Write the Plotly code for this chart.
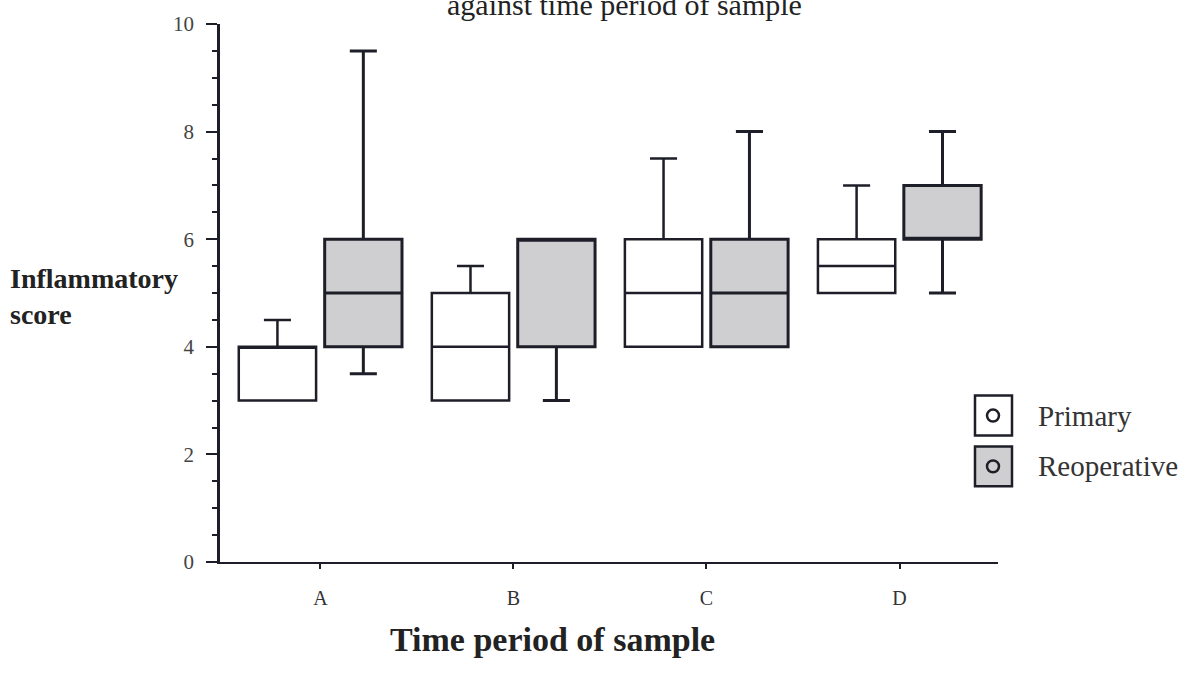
import plotly.graph_objects as go

categories = ["A", "B", "C", "D"]

# Primary
prim_low = [3, 3, 4, 5]
prim_q1 = [3, 3, 4, 5]
prim_med = [4, 4, 5, 5.5]
prim_q3 = [4, 5, 6, 6]
prim_high = [4.5, 5.5, 7.5, 7]

# Reoperative
reop_low = [3.5, 3, 4, 5]
reop_q1 = [4, 4, 4, 6]
reop_med = [5, 6, 5, 6]
reop_q3 = [6, 6, 6, 7]
reop_high = [9.5, 6, 8, 8]

y_ticks = [0, 2, 4, 6, 8, 10]

ink = "#1e1e28"
serif = "Liberation Serif"

fig = go.Figure()
fig.add_trace(go.Box(
    name="Primary", x=categories, q1=prim_q1, median=prim_med, q3=prim_q3,
    lowerfence=prim_low, upperfence=prim_high,
    fillcolor="white", line=dict(color=ink, width=2.5),
    whiskerwidth=0.35, boxpoints=False, showlegend=False,
))
fig.add_trace(go.Box(
    name="Reoperative", x=categories, q1=reop_q1, median=reop_med, q3=reop_q3,
    lowerfence=reop_low, upperfence=reop_high,
    fillcolor="#cfcfd2", line=dict(color=ink, width=3),
    whiskerwidth=0.35, boxpoints=False, showlegend=False,
))

# axes geometry: plot area px x 220..998, y 22..562
W, H = 1188, 684
L, R, T, B = 220, 190, 22, 122
pw = W - L - R
ph = H - T - B

def px(x):
    return (x - L) / pw

def py(y):
    return (H - B - y) / ph

fig.update_layout(
    width=W, height=H,
    margin=dict(l=L, r=R, t=T, b=B),
    paper_bgcolor="white", plot_bgcolor="white",
    boxmode="group", boxgap=0.11, boxgroupgap=0.1,
    font=dict(family=serif, color="#333"),
    showlegend=False,
)
fig.update_xaxes(
    type="category", range=[-0.52, 3.51],
    showline=True, linewidth=2, linecolor=ink,
    ticks="outside", ticklen=5, tickwidth=2, tickcolor=ink,
    ticklabelstandoff=12,
    tickfont=dict(family=serif, size=20, color="#333"),
    showgrid=False, zeroline=False,
)
fig.update_yaxes(
    range=[0, 10], tickvals=y_ticks,
    showline=True, linewidth=2.5, linecolor=ink,
    ticks="outside", ticklen=11, tickwidth=2, tickcolor=ink,
    ticklabelstandoff=8,
    tickfont=dict(family=serif, size=21, color="#444"),
    minor=dict(dtick=0.5, ticks="outside", ticklen=5, tickwidth=2, tickcolor=ink),
    showgrid=False, zeroline=False,
)

# Title (second line visible, top clipped as in the reference)
fig.add_annotation(text="against time period of sample", xref="paper", yref="paper",
                   x=px(624), y=py(2), xanchor="center", yanchor="middle",
                   showarrow=False, font=dict(family=serif, size=30, color="#222"))
# Axis titles
fig.add_annotation(text="<b>Inflammatory<br>score</b>", xref="paper", yref="paper",
                   x=px(8), y=py(296), xanchor="left", yanchor="middle", align="left",
                   showarrow=False, font=dict(family=serif, size=28, color="#222"))
fig.add_annotation(text="<b>Time period of sample</b>", xref="paper", yref="paper",
                   x=px(552), y=py(640), xanchor="center", yanchor="middle",
                   showarrow=False, font=dict(family=serif, size=34, color="#222"))

# Manual legend
legend_items = [("Primary", "white", 415), ("Reoperative", "#cfcfd2", 466)]
for label, fill, cy in legend_items:
    fig.add_shape(type="rect", xref="paper", yref="paper",
                  x0=px(975), x1=px(1012), y0=py(cy - 20), y1=py(cy + 20),
                  line=dict(color=ink, width=2.5), fillcolor=fill)
    fig.add_shape(type="circle", xref="paper", yref="paper",
                  x0=px(987), x1=px(999), y0=py(cy - 6), y1=py(cy + 6),
                  line=dict(color=ink, width=2.5), fillcolor=fill)
    fig.add_annotation(text=label, xref="paper", yref="paper",
                       x=px(1036), y=py(cy), xanchor="left", yanchor="middle",
                       showarrow=False, font=dict(family=serif, size=29, color="#333"))

fig.write_html("out.html")
